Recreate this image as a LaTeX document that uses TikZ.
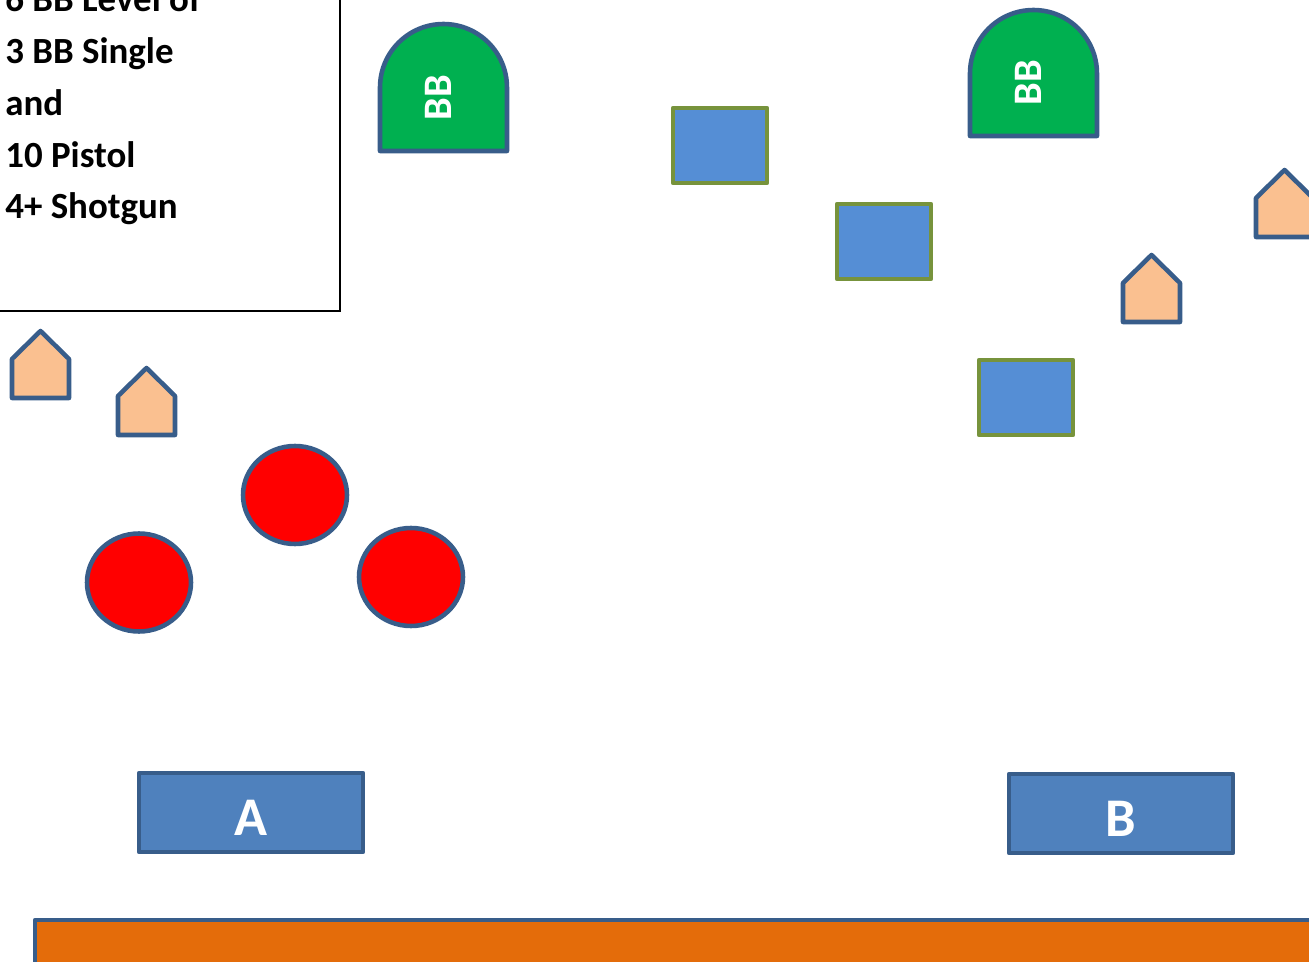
\documentclass[tikz,border=0pt]{standalone}
\usepackage{fontspec}
\setmainfont{Carlito}
\usetikzlibrary{shapes.geometric}
\definecolor{shapeedge}{RGB}{56,93,138}
\definecolor{bbgreen}{RGB}{0,176,80}
\definecolor{startblue}{RGB}{79,129,189}
\definecolor{barrelblue}{RGB}{85,142,213}
\definecolor{barrelolive}{RGB}{119,147,60}
\definecolor{targetpeach}{RGB}{250,192,144}
\definecolor{steelred}{RGB}{255,0,0}
\definecolor{berm}{RGB}{228,108,10}
\tikzset{
  edge/.style={draw=shapeedge, line width=2.6pt, line join=round},
  startbox/.style={rectangle, edge, fill=startblue, minimum width=4.48cm,
    minimum height=1.58cm, inner sep=0pt, text=white,
    text height=0.94cm, text depth=0pt,
    font=\bfseries\fontsize{31}{31}\selectfont},
  barrel/.style={rectangle, draw=barrelolive, line width=2.6pt,
    line join=round, fill=barrelblue, minimum width=1.88cm,
    minimum height=1.5cm},
  steel/.style={ellipse, edge, fill=steelred, minimum width=2.08cm,
    minimum height=1.96cm, inner sep=0pt},
  target/.style={edge, fill=targetpeach},
  bbstand/.style={edge, fill=bbgreen},
  bblabel/.style={text=white, rotate=90, inner sep=0pt,
    font=\bfseries\fontsize{23}{23}\selectfont},
  notebox/.style={rectangle, draw=black, line width=1.1pt, fill=white},
  notetext/.style={align=left, inner sep=0pt,
    font=\bfseries\fontsize{21}{29.5}\selectfont},
}
\begin{document}
\begin{tikzpicture}[x=0.02cm, y=-0.02cm]
  \path[use as bounding box, clip] (0,0) rectangle (1309,962);

  % stage briefing
  \draw[notebox] (-20,-60) rectangle (340,311);
  \node[notetext, anchor=base west] (brief) at (5,219)
    {6 BB Level of\\3 BB Single\\and\\10 Pistol\\4+ Shotgun};

  % BB stands
  \draw[bbstand] (380,151) -- (380,87.5) arc[start angle=180, end angle=0,
    radius=1.27cm] -- (507,151) -- cycle;
  \node[bblabel] (bbleft) at (438,98) {BB};
  \draw[bbstand] (970,136) -- (970,73.5) arc[start angle=180, end angle=0,
    radius=1.27cm] -- (1097,136) -- cycle;
  \node[bblabel] (bbright) at (1028,83) {BB};

  % barrels
  \node[barrel] (barrel1) at (720,145.5) {};
  \node[barrel] (barrel2) at (884,241.5) {};
  \node[barrel] (barrel3) at (1026,397.5) {};

  % pistol targets
  \foreach \hx/\hy in {12/331, 118/368, 1123/255, 1256/170}
    \draw[target] (\hx,\hy+67) -- (\hx,\hy+28) -- (\hx+28.5,\hy)
      -- (\hx+57,\hy+28) -- (\hx+57,\hy+67) -- cycle;

  % steel
  \node[steel] (steel1) at (295,495) {};
  \node[steel] (steel2) at (139,582.5) {};
  \node[steel] (steel3) at (411,577) {};

  % start positions
  \node[startbox] (posA) at (251,812.5) {A};
  \node[startbox] (posB) at (1121,813.5) {B};

  % berm
  \draw[edge, fill=berm] (35,920) rectangle (1340,1000);
\end{tikzpicture}
\end{document}
